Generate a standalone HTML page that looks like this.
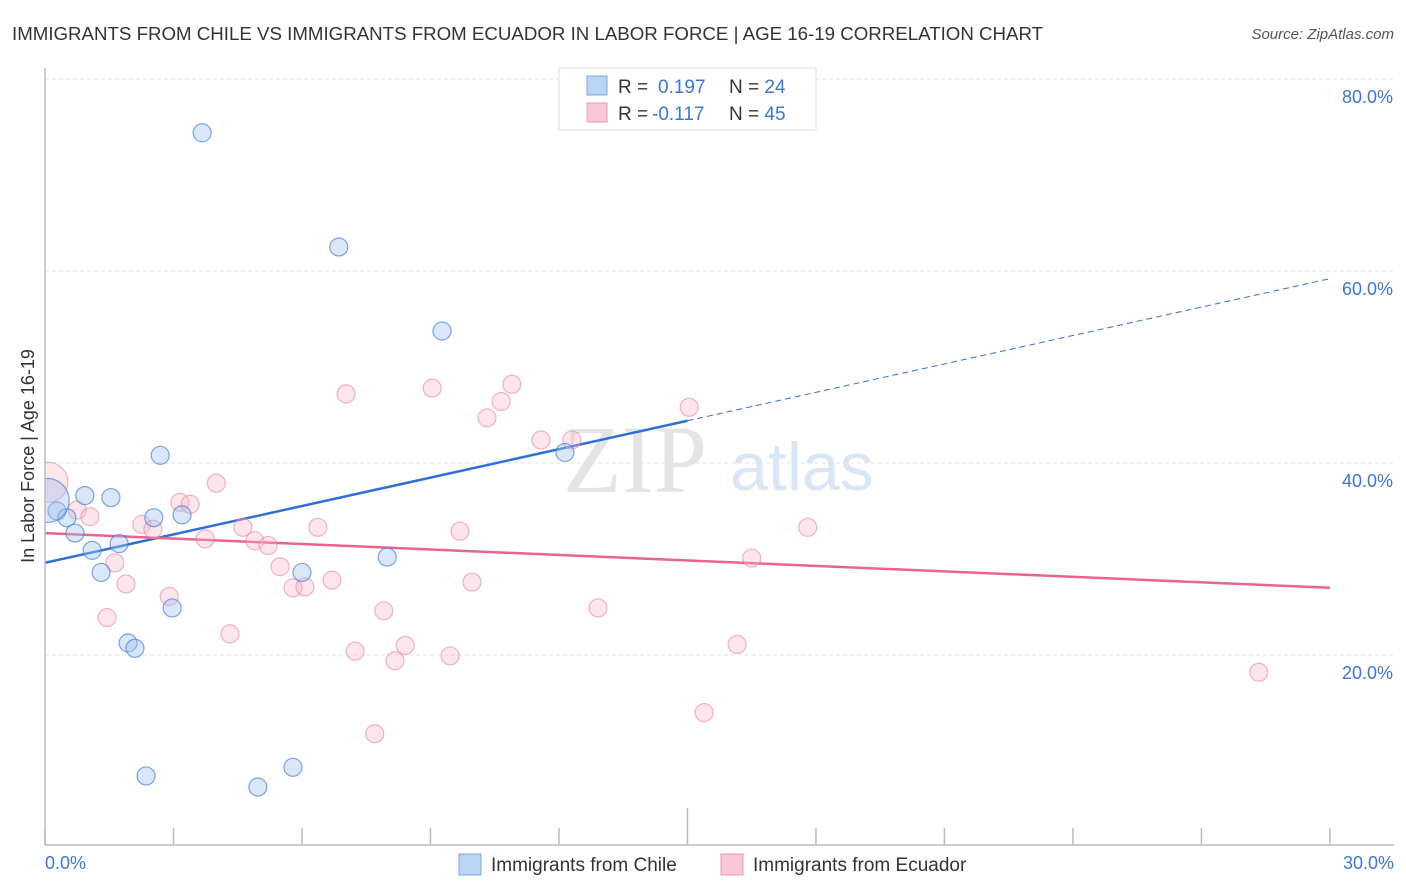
<!DOCTYPE html>
<html><head><meta charset="utf-8">
<style>
body{margin:0;background:#fff;font-family:"Liberation Sans",sans-serif;}
#wrap{position:relative;width:1406px;height:892px;overflow:hidden;}
</style></head>
<body>
<div id="wrap">
<svg id="chart" width="1406" height="892" xmlns="http://www.w3.org/2000/svg">
<defs><clipPath id="plotclip"><rect x="45" y="60" width="1360" height="785"/></clipPath></defs>
<text x="12" y="40" font-size="18.7" fill="#333">IMMIGRANTS FROM CHILE VS IMMIGRANTS FROM ECUADOR IN LABOR FORCE | AGE 16-19 CORRELATION CHART</text>
<text x="1394" y="39" font-size="15" fill="#555" font-style="italic" text-anchor="end">Source: ZipAtlas.com</text>
<text x="635" y="492" font-size="96" fill="#e4e4e4" font-family="Liberation Serif,serif" text-anchor="middle">ZIP</text>
<text x="802" y="490" font-size="68" fill="#d8e6f6" text-anchor="middle">atlas</text>
<text transform="translate(34,456) rotate(-90)" font-size="18" fill="#333" text-anchor="middle">In Labor Force | Age 16-19</text>
<g id="grid"></g><g id="lines" clip-path="url(#plotclip)"></g><g id="pts" clip-path="url(#plotclip)"></g>
<line x1="45" y1="68" x2="45" y2="845" stroke="#bbb" stroke-width="1.5"/>
<line x1="45" y1="845" x2="1394" y2="845" stroke="#bbb" stroke-width="1.5"/>
<text x="45" y="869" font-size="18" fill="#3a78d4">0.0%</text>
<text x="1394" y="869" font-size="18" fill="#3a78d4" text-anchor="end">30.0%</text>
<g>
<rect x="559" y="68" width="257" height="62" fill="#fff" stroke="#ddd"/>
<rect x="587" y="76" width="20" height="19" fill="#b9d4f5" stroke="#7aa8e3"/>
<rect x="587" y="103" width="20" height="19" fill="#fbc7d6" stroke="#ec9ab2"/>
<text x="618" y="93" font-size="19" fill="#333">R = <tspan fill="#3a78d4" x="658">0.197</tspan><tspan x="729" fill="#333">N = </tspan><tspan fill="#3a78d4">24</tspan></text>
<text x="618" y="120" font-size="19" fill="#333">R = <tspan fill="#3a78d4" x="652">-0.117</tspan><tspan x="729" fill="#333">N = </tspan><tspan fill="#3a78d4">45</tspan></text>
</g>
<g>
<rect x="459" y="854" width="22" height="21" fill="#b9d4f5" stroke="#7aa8e3"/>
<text x="491" y="871" font-size="19" fill="#333">Immigrants from Chile</text>
<rect x="721" y="854" width="22" height="21" fill="#fbc7d6" stroke="#ec9ab2"/>
<text x="753" y="871" font-size="19" fill="#333">Immigrants from Ecuador</text>
</g>
</svg>
</div>
<script>
const yTicks=[20,40,60,80];
const xTickVals=[0,3,6,9,12,15,18,21,24,27,30];
const chileX=[3.67,6.86,9.27,2.69,0.93,1.54,0.28,0.51,2.54,3.2,0.7,1.1,1.73,1.31,7.99,6.0,2.97,1.94,2.1,12.14,2.36,4.97,5.79,0.05];
const chileY=[74.4,62.5,53.75,40.8,36.6,36.4,35.0,34.3,34.3,34.6,32.7,30.9,31.6,28.6,30.2,28.6,24.9,21.25,20.7,41.1,7.4,6.25,8.3,36.1];
const ecuX=[0.07,0.75,1.05,2.26,2.52,3.15,3.39,4.0,3.74,4.62,4.9,5.21,1.63,1.89,1.45,2.9,4.32,5.49,5.79,6.07,6.37,6.7,7.03,7.24,7.7,7.91,8.17,8.41,9.04,9.46,9.69,9.97,10.32,10.65,10.9,11.58,12.3,12.91,15.04,15.39,16.16,16.5,17.81,28.34];
const ecuY=[38.0,35.1,34.4,33.6,33.1,35.9,35.7,37.9,32.1,33.3,31.9,31.4,29.6,27.4,23.9,26.1,22.2,29.2,27.0,27.1,33.3,27.8,47.2,20.4,11.8,24.6,19.4,21.0,47.8,19.9,32.9,27.6,44.7,46.4,48.2,42.4,42.4,24.9,45.8,14.0,21.1,30.1,33.3,18.2];
const chileTrend=[29.6,59.2];
const ecuTrend=[32.7,27.0];
const NS="http://www.w3.org/2000/svg";
const X=v=>45+v*42.83, Y=v=>847-v*9.6;
function mk(tag,attrs,parent){const e=document.createElementNS(NS,tag);for(const k in attrs)e.setAttribute(k,attrs[k]);parent.appendChild(e);return e;}
const grid=document.getElementById('grid'),lines=document.getElementById('lines'),pts=document.getElementById('pts');
yTicks.forEach(t=>{
 const l=mk('line',{x1:45,x2:1394,y1:Y(t),y2:Y(t),stroke:'#e3e3e3','stroke-dasharray':'4,3'},grid);
 
 
 const tx=mk('text',{x:1393,y:Y(t)+24,'font-size':18,fill:'#3a78d4','text-anchor':'end'},grid);
 tx.textContent=t.toFixed(1)+'%';
 
 
});
xTickVals.forEach((t,i)=>{
 const l=mk('line',{x1:X(t),x2:X(t),y1:(t===15?808:828),y2:845,stroke:'#bbb','stroke-width':1.5},grid);
 
 
});
const xEndSolid=15;
let l1=mk('line',{x1:X(0),y1:Y(chileTrend[0]),x2:X(xEndSolid),y2:Y(chileTrend[0]+(chileTrend[1]-chileTrend[0])*xEndSolid/30),stroke:'#2f6fd6','stroke-width':2.5},lines);


let l2=mk('line',{x1:X(xEndSolid),y1:Y(chileTrend[0]+(chileTrend[1]-chileTrend[0])*xEndSolid/30),x2:X(30),y2:Y(chileTrend[1]),stroke:'#2f6fd6','stroke-width':1,'stroke-dasharray':'6,4'},lines);


let l3=mk('line',{x1:X(0),y1:Y(ecuTrend[0]),x2:X(30),y2:Y(ecuTrend[1]),stroke:'#e8638e','stroke-width':2.5},lines);


ecuX.forEach((x,i)=>{
 const c=mk('circle',{cx:X(x),cy:Y(ecuY[i]),r:i===0?20:9,fill:'rgba(248,180,200,0.35)',stroke:'rgba(232,120,155,0.55)','stroke-width':1.2},pts);
 
 
});
chileX.forEach((x,i)=>{
 const c=mk('circle',{cx:X(x),cy:Y(chileY[i]),r:i===chileX.length-1?22:9,fill:'rgba(160,195,240,0.4)',stroke:'rgba(60,120,210,0.65)','stroke-width':1.2},pts);
 
 
});
</script>
</body></html>
